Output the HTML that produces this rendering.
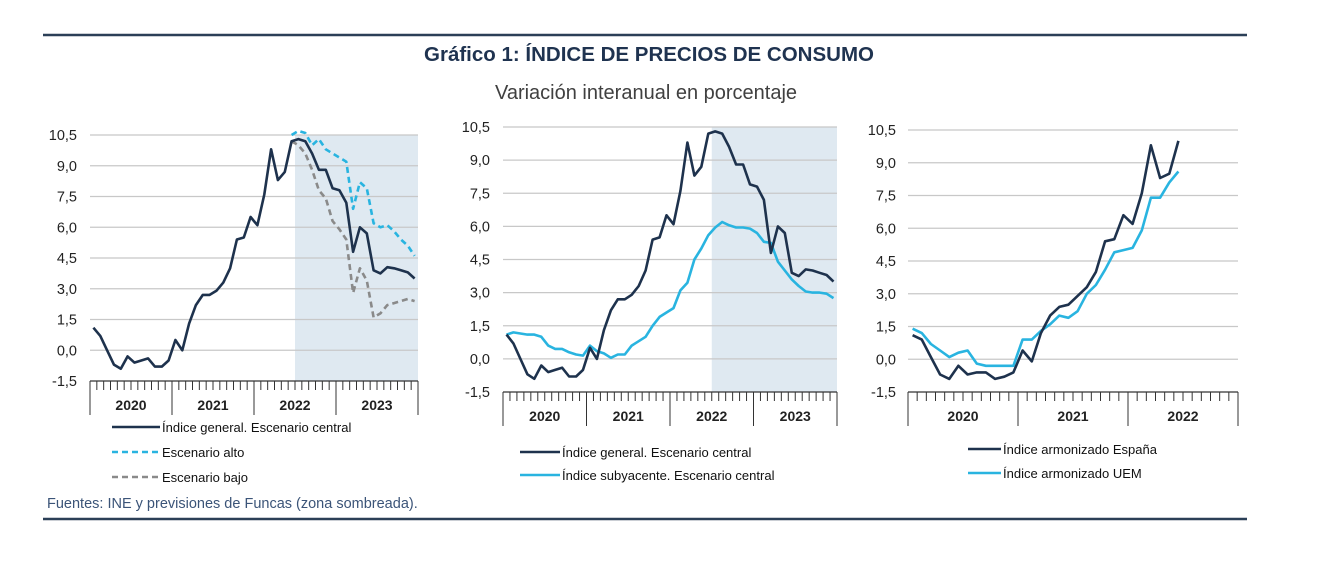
<!DOCTYPE html>
<html><head><meta charset="utf-8"><style>
body{margin:0;background:#fff;width:1327px;height:561px;overflow:hidden;font-family:"Liberation Sans",sans-serif}
svg{position:absolute;left:0;top:0}
</style></head><body>
<svg id="c" width="1327" height="561" xmlns="http://www.w3.org/2000/svg">
<line x1="43" y1="35" x2="1247" y2="35" stroke="#2b3f57" stroke-width="2.5"/>
<line x1="43" y1="519" x2="1247" y2="519" stroke="#2b3f57" stroke-width="2.5"/>
<text x="649" y="61" text-anchor="middle" font-size="20.5" font-weight="bold" fill="#1f3350">Gráfico 1: ÍNDICE DE PRECIOS DE CONSUMO</text>
<text x="646" y="99" text-anchor="middle" font-size="20" fill="#404040">Variación interanual en porcentaje</text>
<text x="47" y="508" font-size="14.5" fill="#3b5478">Fuentes: INE y previsiones de Funcas (zona sombreada).</text>
</svg>
<script>
const yTicks=[-1.5,0,1.5,3,4.5,6,7.5,9,10.5];
const tickLabels=["-1,5","0,0","1,5","3,0","4,5","6,0","7,5","9,0","10,5"];
const years4=["2020","2021","2022","2023"];
const years3=["2020","2021","2022"];
const general=[1.1,0.7,0.0,-0.7,-0.9,-0.3,-0.6,-0.5,-0.4,-0.8,-0.8,-0.5,
0.5,0.0,1.3,2.2,2.7,2.7,2.9,3.3,4.0,5.4,5.5,6.5,
6.1,7.6,9.8,8.3,8.7,10.2,10.3,10.2,9.6,8.8,8.8,7.9,
7.8,7.2,4.8,6.0,5.7,3.9,3.75,4.05,4.0,3.9,3.8,3.5];
const highStart=29;
const highScen=[10.5,10.7,10.6,10.0,10.3,9.8,9.6,9.4,9.2,6.9,8.2,7.9,6.2,6.0,6.1,5.8,5.4,5.1,4.6];
const lowScen=[10.2,10.0,9.6,8.8,7.8,7.4,6.3,5.9,5.4,2.8,4.0,3.4,1.6,1.8,2.2,2.3,2.4,2.5,2.4];
const core=[1.1,1.2,1.15,1.1,1.1,1.0,0.6,0.45,0.45,0.3,0.2,0.15,
0.6,0.35,0.25,0.05,0.2,0.2,0.6,0.8,1.0,1.5,1.9,2.1,
2.3,3.1,3.45,4.5,5.0,5.6,5.95,6.2,6.05,5.95,5.95,5.9,
5.7,5.3,5.25,4.4,4.0,3.6,3.3,3.05,3.0,3.0,2.95,2.75];
const hicpSpain=[1.1,0.9,0.1,-0.7,-0.9,-0.3,-0.7,-0.6,-0.6,-0.9,-0.8,-0.6,
0.4,-0.1,1.2,2.0,2.4,2.5,2.9,3.3,4.0,5.4,5.5,6.6,
6.2,7.6,9.8,8.3,8.5,10.0];
const hicpEmu=[1.4,1.2,0.7,0.4,0.1,0.3,0.4,-0.2,-0.3,-0.3,-0.3,-0.3,
0.9,0.9,1.3,1.6,2.0,1.9,2.2,3.0,3.4,4.1,4.9,5.0,
5.1,5.9,7.4,7.4,8.1,8.6];
const shadeFrom=30;

const NS="http://www.w3.org/2000/svg";
const svg=document.getElementById('c');
function mk(tag,attrs,parent){const e=document.createElementNS(NS,tag);for(const k in attrs)e.setAttribute(k,attrs[k]);(parent||svg).appendChild(e);return e;}

function panel(p){
  const g=mk('g',{});
  
  
  const n=p.months;
  const xs=i=>p.x0+(i+0.5)*(p.x1-p.x0)/n;
  const ys=v=>p.yb-(v+1.5)*(p.yb-p.yt)/12;
  if(p.shade!=null){
    const r=mk('rect',{x:p.x0+p.shade*(p.x1-p.x0)/n,y:p.yt,width:p.x1-(p.x0+p.shade*(p.x1-p.x0)/n),height:p.yb-p.yt,fill:'#dfe9f1'},g);
    
    
  }
  yTicks.forEach((t,k)=>{
    if(t>-1.5){const l=mk('line',{x1:p.x0,x2:p.x1,y1:ys(t),y2:ys(t),stroke:'#c8c8c8','stroke-width':1.3},g);
      
      }
    const tx=mk('text',{x:p.lx,y:ys(t)+5,'text-anchor':'end','font-size':14.5,fill:'#222'},g);
    tx.textContent=tickLabels[k];
    
    
  });
  const ax=mk('line',{x1:p.x0,x2:p.x1,y1:p.yb,y2:p.yb,stroke:'#333','stroke-width':1.3},g);
  
  
  for(let i=0;i<=n;i++){
    const x=p.x0+i*(p.x1-p.x0)/n;
    const big=i%12==0;
    const l=mk('line',{x1:x,x2:x,y1:p.yb,y2:p.yb+(big?34:9),stroke:'#333','stroke-width':1},g);
    
    
  }
  p.years.forEach((y,k)=>{
    const t=mk('text',{x:p.x0+(k*12+6)*(p.x1-p.x0)/n,y:p.yb+29,'text-anchor':'middle','font-size':14,'font-weight':'bold',fill:'#222'},g);
    t.textContent=y;
    
    
  });
  p.series.forEach(s=>{
    const pts=s.data.map((v,i)=>xs(i+(s.start||0)).toFixed(1)+','+ys(v).toFixed(1)).join(' ');
    const a={points:pts,fill:'none',stroke:s.color,'stroke-width':2.6,'stroke-linejoin':'round'};
    if(s.dash)a['stroke-dasharray']='6,4';
    const pl=mk('polyline',a,g);
    
    
  });
  p.legend.forEach(L=>{
    const a={x1:L.x,x2:L.x+L.w,y1:L.y,y2:L.y,stroke:L.color,'stroke-width':2.6};
    if(L.dash)a['stroke-dasharray']='6,4';
    const l=mk('line',a,g);
    
    
    const t=mk('text',{x:L.x+L.w+2,y:L.y+5,'font-size':13,fill:'#111'},g);
    t.textContent=L.label;
    
    
  });
}
const navy='#1e324d',cyan='#29b4e0',grey='#8a8a8a';
panel({name:'panel-scenarios',x0:90,x1:418,yt:135,yb:381,lx:77,months:48,years:years4,shade:shadeFrom,
 series:[{name:'line-high-scenario',data:highScen,start:highStart,color:cyan,dash:1},
         {name:'line-low-scenario',data:lowScen,start:highStart,color:grey,dash:1},
         {name:'line-general-central',data:general,color:navy}],
 legend:[{x:112,w:48,y:427,color:navy,label:'Índice general. Escenario central'},
         {x:112,w:48,y:452,color:cyan,dash:1,label:'Escenario alto'},
         {x:112,w:48,y:477,color:grey,dash:1,label:'Escenario bajo'}]});
panel({name:'panel-general-vs-core',x0:503,x1:837,yt:127,yb:392,lx:490,months:48,years:years4,shade:shadeFrom,
 series:[{name:'line-core-central',data:core,color:cyan},
         {name:'line-general-central',data:general,color:navy}],
 legend:[{x:520,w:40,y:452,color:navy,label:'Índice general. Escenario central'},
         {x:520,w:40,y:475,color:cyan,label:'Índice subyacente. Escenario central'}]});
panel({name:'panel-hicp',x0:908,x1:1238,yt:130,yb:392,lx:896,months:36,years:years3,shade:null,
 series:[{name:'line-hicp-emu',data:hicpEmu,color:cyan},
         {name:'line-hicp-spain',data:hicpSpain,color:navy}],
 legend:[{x:968,w:33,y:449,color:navy,label:'Índice armonizado España'},
         {x:968,w:33,y:473,color:cyan,label:'Índice armonizado UEM'}]});
</script>
</body></html>
